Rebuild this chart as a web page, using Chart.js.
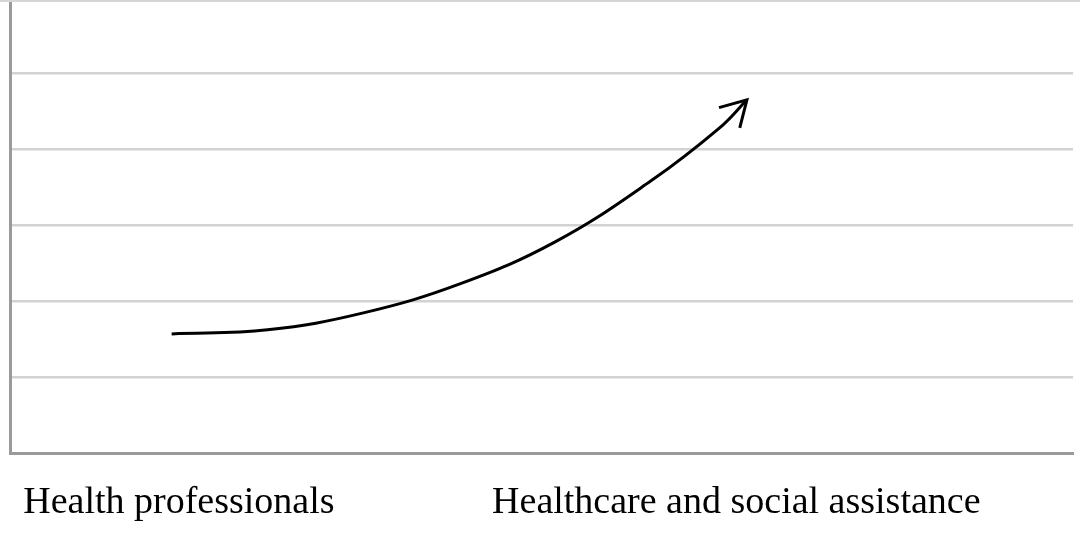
<!DOCTYPE html>
<html>
<head>
<meta charset="utf-8">
<script src="https://cdn.jsdelivr.net/npm/chart.js@4"></script>
<style>
  html, body { margin: 0; padding: 0; background: #fff; overflow: hidden; }
  body { border-top: 2px solid #d6d6d6; }
  canvas { display: block; }
</style>
</head>
<body>
<canvas id="chart" width="1080" height="531"></canvas>
<script>
// categories on the x axis (index 0 and 1)
const categories = ['Health professionals', 'Healthcare and social assistance'];

// curve, x in category units, y in gridline units
const curveX = [-0.013, 0.159, 0.331, 0.504, 0.675, 0.847, 0.970, 1.019];
const curveY = [1.57, 1.623, 1.846, 2.227, 2.779, 3.581, 4.277, 4.645];

const gridTicks = [0, 1, 2, 3, 4, 5];

const points = curveX.map((x, i) => ({ x: x, y: curveY[i] }));

// draws the open arrow head at the end of the line
const arrowHead = {
  id: 'arrowHead',
  afterDatasetsDraw(chart) {
    const meta = chart.getDatasetMeta(0);
    const n = meta.data.length;
    if (n < 2) return;
    const last = meta.data[n - 1], prev = meta.data[n - 2];
    const ang = Math.atan2(last.y - prev.y, last.x - prev.x);
    const len = 29, spread = Math.PI / 6;
    const ctx = chart.ctx;
    ctx.save();
    ctx.strokeStyle = '#000';
    ctx.lineWidth = 3;
    ctx.lineCap = 'butt';
    ctx.lineJoin = 'miter';
    ctx.beginPath();
    ctx.moveTo(last.x + len * Math.cos(ang + Math.PI - spread), last.y + len * Math.sin(ang + Math.PI - spread));
    ctx.lineTo(last.x, last.y);
    ctx.lineTo(last.x + len * Math.cos(ang + Math.PI + spread), last.y + len * Math.sin(ang + Math.PI + spread));
    ctx.stroke();
    ctx.restore();
  }
};

new Chart(document.getElementById('chart'), {
  type: 'line',
  data: {
    datasets: [{
      data: points,
      borderColor: '#000',
      borderWidth: 3,
      pointRadius: 0,
      tension: 0.4,
      fill: false
    }]
  },
  options: {
    responsive: false,
    animation: false,
    layout: { padding: { left: 10, right: 7, top: 0, bottom: -20 } },
    plugins: { legend: { display: false }, tooltip: { enabled: false } },
    scales: {
      x: {
        type: 'linear',
        min: -0.303,
        max: 1.604,
        afterBuildTicks: (scale) => { scale.ticks = categories.map((c, i) => ({ value: i })); },
        afterFit: (scale) => { scale.paddingLeft = 0; scale.paddingRight = 0; },
        grid: { display: false, drawTicks: false },
        border: { display: true, color: '#9a9a9a', width: 3 },
        ticks: {
          autoSkip: false,
          maxRotation: 0,
          padding: 27,
          color: '#000',
          font: { family: '"Liberation Serif", "Times New Roman", serif', size: 38 },
          callback: (v) => categories[v]
        }
      },
      y: {
        type: 'linear',
        min: 0,
        max: 5.93,
        afterBuildTicks: (scale) => { scale.ticks = gridTicks.map(v => ({ value: v })); },
        afterFit: (scale) => { scale.width = 0; scale.paddingTop = 0; scale.paddingBottom = 0; },
        grid: { color: '#d2d2d2', lineWidth: 2.5, drawTicks: false },
        border: { display: true, color: '#9a9a9a', width: 3 },
        ticks: { display: false }
      }
    }
  },
  plugins: [arrowHead]
});
</script>
</body>
</html>
